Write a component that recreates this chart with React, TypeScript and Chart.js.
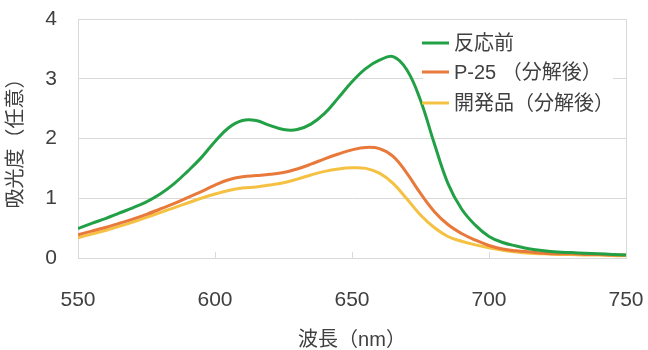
import { useEffect, useRef } from "react";
import { Chart, registerables } from "chart.js";

Chart.register(...registerables);

// Wavelength (nm), sampled every 5 nm
const wavelengths = [
  550, 555, 560, 565, 570, 575, 580, 585, 590, 595,
  600, 605, 610, 615, 620, 625, 630, 635, 640, 645,
  650, 655, 660, 665, 670, 675, 680, 685, 690, 695,
  700, 705, 710, 715, 720, 725, 730, 735, 740, 745, 750,
];

// Absorbance before reaction
const beforeReaction = [
  0.49, 0.58, 0.66, 0.75, 0.84, 0.94, 1.07, 1.24, 1.45, 1.68,
  1.95, 2.18, 2.30, 2.30, 2.22, 2.15, 2.15, 2.24, 2.42, 2.68,
  2.95, 3.17, 3.31, 3.37, 3.15, 2.64, 1.92, 1.25, 0.82, 0.55,
  0.36, 0.26, 0.20, 0.15, 0.12, 0.10, 0.09, 0.08, 0.07, 0.06, 0.05,
];

// Absorbance after decomposition with P-25
const p25Decomposed = [
  0.39, 0.45, 0.51, 0.58, 0.65, 0.73, 0.82, 0.91, 1.01, 1.11,
  1.22, 1.31, 1.36, 1.38, 1.40, 1.43, 1.49, 1.57, 1.66, 1.74,
  1.81, 1.85, 1.83, 1.70, 1.42, 1.08, 0.78, 0.56, 0.41, 0.30,
  0.21, 0.15, 0.12, 0.10, 0.08, 0.07, 0.07, 0.06, 0.06, 0.05, 0.05,
];

// Absorbance after decomposition with the developed product
const developedDecomposed = [
  0.34, 0.40, 0.46, 0.53, 0.60, 0.68, 0.76, 0.84, 0.92, 1.00,
  1.07, 1.13, 1.17, 1.19, 1.22, 1.26, 1.32, 1.39, 1.45, 1.49,
  1.51, 1.50, 1.42, 1.25, 0.99, 0.72, 0.51, 0.36, 0.28, 0.22,
  0.17, 0.13, 0.10, 0.08, 0.07, 0.06, 0.06, 0.05, 0.05, 0.04, 0.04,
];

const seriesLabels = ["反応前", "P-25 （分解後）", "開発品（分解後）"];
const seriesColors = ["#22a046", "#e8793a", "#f5c143"];
const xTickValues = [550, 600, 650, 700, 750];
const yTickValues = [0, 1, 2, 3, 4];
const xTitle = "波長（nm）";
const yTitle = "吸光度（任意）";

const FONT = "'Liberation Sans', 'Noto Sans CJK JP', sans-serif";
const TEXT_COLOR = "#404040";
const GRID_COLOR = "#d9d9d9";
const LEGEND_OFFSET = 204;

// Right-hand frame line of the plot area, plus the legend's white backing
const framePlugin = {
  id: "plotFrame",
  beforeDatasetsDraw(chart: any) {
    const { ctx, chartArea } = chart;
    ctx.save();
    ctx.fillStyle = "#ffffff";
    ctx.fillRect(chartArea.right - LEGEND_OFFSET + 1, chartArea.top + 8, 190, 92);
    ctx.strokeStyle = GRID_COLOR;
    ctx.lineWidth = 1;
    ctx.beginPath();
    ctx.moveTo(Math.round(chartArea.right) + 0.5, chartArea.top);
    ctx.lineTo(Math.round(chartArea.right) + 0.5, chartArea.bottom);
    ctx.stroke();
    ctx.restore();
  },
};

// Legend drawn inside the top-right of the plot area
const insetLegendPlugin = {
  id: "insetLegend",
  afterDatasetsDraw(chart: any) {
    const { ctx, chartArea } = chart;
    const left = chartArea.right - LEGEND_OFFSET;
    const rows = [24, 53, 84];
    ctx.save();
    ctx.font = `20px ${FONT}`;
    ctx.textBaseline = "middle";
    ctx.textAlign = "left";
    chart.data.datasets.forEach((ds: any, i: number) => {
      const y = chartArea.top + rows[i];
      ctx.strokeStyle = ds.borderColor;
      ctx.lineWidth = 3;
      ctx.beginPath();
      ctx.moveTo(left, y);
      ctx.lineTo(left + 27, y);
      ctx.stroke();
      ctx.fillStyle = TEXT_COLOR;
      ctx.fillText(ds.label, left + 32, y + 1);
    });
    ctx.restore();
  },
};

export default function App() {
  const canvasRef = useRef<HTMLCanvasElement | null>(null);

  useEffect(() => {
    if (!canvasRef.current) return;
    const series = [beforeReaction, p25Decomposed, developedDecomposed];
    const chart = new Chart(canvasRef.current, {
      type: "line",
      data: {
        datasets: series.map((values, i) => ({
          label: seriesLabels[i],
          data: wavelengths.map((w, j) => ({ x: w, y: values[j] })),
          borderColor: seriesColors[i],
          backgroundColor: seriesColors[i],
          borderWidth: 3,
          pointRadius: 0,
          tension: 0.4,
          fill: false,
        })),
      },
      options: {
        animation: false,
        responsive: false,
        maintainAspectRatio: false,
        layout: { padding: { top: 19, right: 22, bottom: 0, left: 0 } },
        plugins: {
          legend: { display: false },
          tooltip: { enabled: false },
        },
        scales: {
          x: {
            type: "linear",
            min: 550,
            max: 750,
            afterBuildTicks: (scale: any) => {
              scale.ticks = xTickValues.map((v) => ({ value: v }));
            },
            afterFit: (scale: any) => {
              scale.height = 92;
              scale.paddingLeft = 0;
              scale.paddingRight = 0;
            },
            grid: {
              drawOnChartArea: false,
              drawTicks: true,
              tickLength: -6,
              color: GRID_COLOR,
            },
            border: { color: GRID_COLOR },
            ticks: {
              padding: 36,
              color: TEXT_COLOR,
              font: { family: FONT, size: 21 },
              maxRotation: 0,
            },
            title: {
              display: true,
              text: xTitle,
              color: TEXT_COLOR,
              font: { family: FONT, size: 20, lineHeight: 1 },
              padding: { top: 0, bottom: 0 },
            },
          },
          y: {
            min: 0,
            max: 4,
            afterBuildTicks: (scale: any) => {
              scale.ticks = yTickValues.map((v) => ({ value: v }));
            },
            afterFit: (scale: any) => {
              scale.width = 78;
              scale.paddingTop = 0;
              scale.paddingBottom = 0;
            },
            grid: { color: GRID_COLOR, drawTicks: false },
            border: { color: GRID_COLOR },
            ticks: {
              padding: 21,
              color: TEXT_COLOR,
              font: { family: FONT, size: 21 },
            },
            title: {
              display: true,
              text: yTitle,
              color: TEXT_COLOR,
              font: { family: FONT, size: 20 },
              padding: { top: 4, bottom: 0 },
            },
          },
        },
      },
      plugins: [framePlugin, insetLegendPlugin],
    });
    return () => chart.destroy();
  }, []);

  return (
    <div style={{ position: "fixed", left: 0, top: 0, width: 648, height: 350, background: "#ffffff" }}>
      <canvas ref={canvasRef} width={648} height={350} style={{ width: 648, height: 350 }} />
    </div>
  );
}
